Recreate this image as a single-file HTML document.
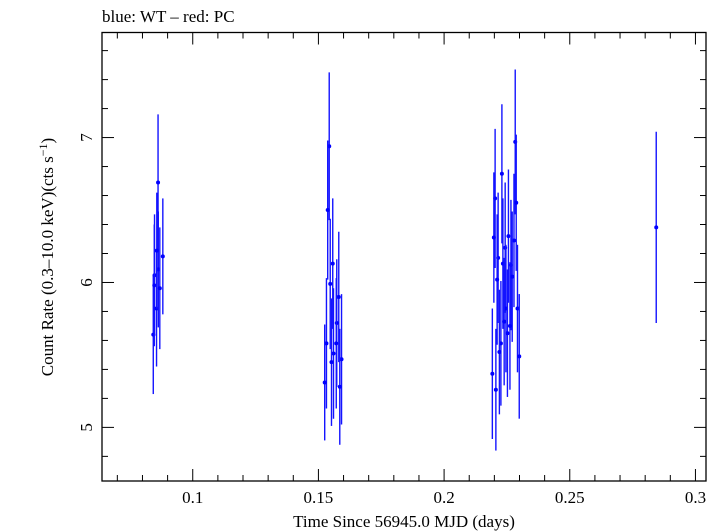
<!DOCTYPE html>
<html><head><meta charset="utf-8"><style>
body{margin:0;background:#fff;}
svg{display:block;font-family:"Liberation Serif",serif;}
</style></head><body>
<svg id="c" width="720" height="532">
<text x="102" y="22" font-size="17">blue: WT – red: PC</text>
<rect x="102" y="32.5" width="604" height="448.5" fill="none" stroke="#000" stroke-width="1.3"/>
<g id="ticks"></g>
<g id="marks"></g>
<text x="404" y="527" font-size="17" text-anchor="middle">Time Since 56945.0 MJD (days)</text>
<text transform="translate(53,257) rotate(-90)" font-size="17" text-anchor="middle">Count Rate (0.3–10.0 keV)(cts s<tspan dy="-6" font-size="12">−1</tspan><tspan dy="6">)</tspan></text>
</svg>
<script>
const xs=[0.0843,0.0848,0.0847,0.0862,0.0856,0.0863,0.0869,0.0881,0.0857,
0.1543,0.1537,0.1557,0.1547,0.1581,0.1573,0.1532,0.1571,0.1560,0.1552,0.1592,0.1525,0.1585,
0.2283,0.2230,0.2203,0.2287,0.2256,0.2198,0.2278,0.2243,0.2215,0.2234,0.2266,0.2271,0.2211,0.2246,0.2292,0.2239,0.2262,0.2252,0.2226,0.2220,0.2299,0.2192,0.2206,
0.2844];
const ys=[5.64,6.05,5.98,6.69,5.82,6.09,5.96,6.18,6.22,
6.94,6.50,6.13,5.99,5.90,5.72,5.58,5.58,5.51,5.45,5.47,5.31,5.28,
6.97,6.75,6.58,6.55,6.32,6.31,6.29,6.24,6.17,6.13,6.12,6.04,6.02,5.82,5.82,5.73,5.70,5.65,5.58,5.52,5.49,5.37,5.26,
6.38];
const errs=[0.41,0.42,0.42,0.47,0.40,0.40,0.42,0.40,0.40,
0.51,0.48,0.45,0.45,0.45,0.44,0.45,0.45,0.45,0.44,0.45,0.40,0.40,
0.50,0.48,0.48,0.47,0.46,0.45,0.46,0.45,0.45,0.45,0.45,0.45,0.45,0.44,0.44,0.44,0.44,0.44,0.43,0.43,0.43,0.45,0.42,
0.66];
const xTicks=[0.1,0.15,0.2,0.25,0.3];
const xTickLabels=["0.1","0.15","0.2","0.25","0.3"];
const yTicks=[5,6,7];
const yTickLabels=["5","6","7"];
const X0=102,X1=706,Y0=32.5,Y1=481;
const xmin=0.0639,xmax=0.3042,ymin=4.63,ymax=7.725;
const sx=v=>X0+(v-xmin)/(xmax-xmin)*(X1-X0);
const sy=v=>Y1-(v-ymin)/(ymax-ymin)*(Y1-Y0);
const NS="http://www.w3.org/2000/svg";
const tg=document.getElementById('ticks'),mg=document.getElementById('marks');
function ln(g,x1,y1,x2,y2,c,w){const l=document.createElementNS(NS,'line');l.setAttribute('x1',x1);l.setAttribute('y1',y1);l.setAttribute('x2',x2);l.setAttribute('y2',y2);l.setAttribute('stroke',c);l.setAttribute('stroke-width',w);g.appendChild(l);return l;}
function tx(x,y,s,anchor){const t=document.createElementNS(NS,'text');t.setAttribute('x',x);t.setAttribute('y',y);t.setAttribute('font-size','17');t.setAttribute('text-anchor',anchor);t.textContent=s;tg.appendChild(t);return t;}
for(let k=7;k<=30;k++){const v=k/100;const x=sx(v);const maj=(k%5===0);const L=maj?12:6;
const a=ln(tg,x,Y1,x,Y1-L,'#000',1);


const b=ln(tg,x,Y0,x,Y0+L,'#000',1);

}
for(let k=24;k<=38;k++){const v=k/5;const y=sy(v);if(y<Y0||y>Y1)continue;const maj=(k%5===0);const L=maj?12:6;
const a=ln(tg,X0,y,X0+L,y,'#000',1);


const b=ln(tg,X1,y,X1-L,y,'#000',1);

}
xTicks.forEach((v,i)=>{const t=tx(sx(v),503,xTickLabels[i],'middle');

});
yTicks.forEach((v,i)=>{const t=tx(sx(0)+0,0,'','middle');t.remove();
const t2=document.createElementNS(NS,'text');t2.setAttribute('font-size','17');t2.setAttribute('text-anchor','middle');
t2.setAttribute('transform','translate(92,'+sy(v)+') rotate(-90)');t2.setAttribute('dy','0');t2.textContent=yTickLabels[i];tg.appendChild(t2);

});
xs.forEach((v,i)=>{const x=sx(v);
const e=ln(mg,x,sy(ys[i]+errs[i]),x,sy(ys[i]-errs[i]),'#1414ff',1.4);


const c=document.createElementNS(NS,'circle');c.setAttribute('cx',x);c.setAttribute('cy',sy(ys[i]));c.setAttribute('r','2');c.setAttribute('fill','#0000ff');mg.appendChild(c);

});
</script>
</body></html>
